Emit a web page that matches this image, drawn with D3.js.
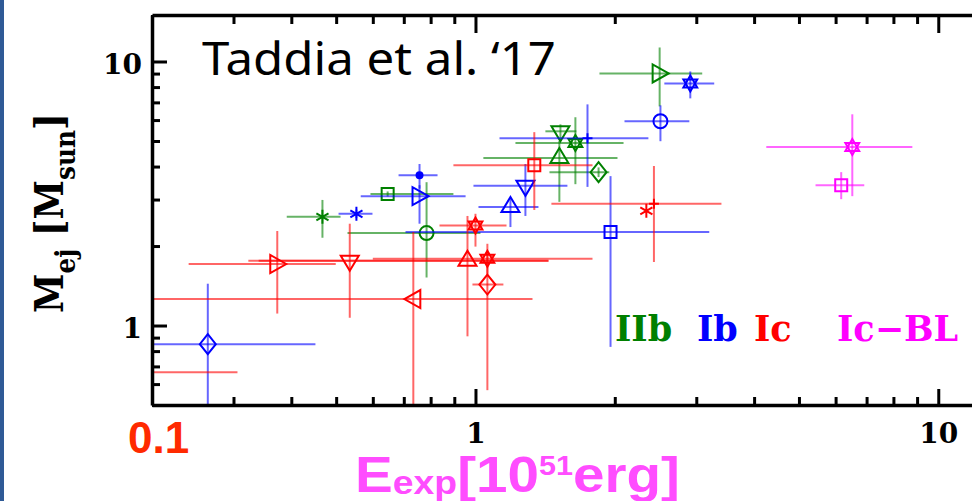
<!DOCTYPE html>
<html>
<head>
<meta charset="utf-8">
<script src="https://cdn.jsdelivr.net/npm/d3@7"></script>
<style>
  body { margin: 0; background: #fff; }
  svg { display: block; }
</style>
</head>
<body>
<svg width="972" height="501"></svg>
<script>
// columns: marker, E, E_lo, E_hi, M, M_lo, M_hi
var iib = [
    ["asterisk", 0.467, 0.391, 0.511, 2.58, 2.15, 2.99],
    ["square",   0.646, 0.593, 0.896, 3.15, 3.08, 3.22],
    ["circle",   0.784, 0.529, 1.025, 2.24, 1.52, 3.49],
    ["triUp",    1.518, 1.04,  2.027, 4.31, 2.94, 5.0],
    ["triDown",  1.526, 1.416, 1.652, 5.44, 5.0,  5.78],
    ["star",     1.644, 1.22,  2.089, 4.91, 3.43, 6.15],
    ["diamond",  1.845, 1.445, 1.946, 3.81, 3.65, 3.97],
    ["triRight", 2.5,   1.853, 3.09,  9.01, 6.76, 11.3]
];
var ib = [
    ["diamond",  0.264, 0.18,  0.451, 0.85, 0.45, 1.44],
    ["asterisk", 0.553, 0.506, 0.599, 2.65, 2.55, 2.75],
    ["dot",      0.757, 0.682, 0.828, 3.71, 3.3,  4.09],
    ["triRight", 0.757, 0.565, 0.952, 3.09, 2.43, 3.4],
    ["triUp",    1.19,  1.015, 1.368, 2.81, 2.36, 3.04],
    ["triDown",  1.282, 0.99,  1.58,  3.38, 2.6,  4.09],
    ["plus",     1.746, 1.127, 2.364, 5.12, 3.35, 6.88],
    ["circle",   2.51,  2.099, 2.898, 5.94, 4.99, 6.82],
    ["star",     2.912, 2.559, 3.28,  8.26, 7.25, 9.17],
    ["square",   1.958, 0.706, 3.2,   2.26, 0.83, 3.68]
];
var ic = [
    ["triRight", 0.373, 0.24,  0.499, 1.71, 1.11, 2.28],
    ["triDown",  0.535, 0.323, 1.438, 1.76, 1.07, 2.43],
    ["triUp",    0.961, 0.34,  1.438, 1.76, 0.91, 2.6],
    ["star",     1.061, 0.6,   1.79,  1.79, 1.57, 2.04],
    ["diamond",  1.061, 0.985, 1.149, 1.43, 0.569, 1.9],
    ["triLeft",  0.734, 0.18,  1.328, 1.26, 0.45, 2.26],
    ["star",     1.0,   0.836, 1.167, 2.39, 1.99, 2.65],
    ["square",   1.34,  0.896, 1.79,  4.05, 2.74, 5.40],
    ["plus",     2.43,  1.459, 3.40,  2.89, 1.74, 4.02],
    ["asterisk", 2.34,  2.34,  2.34,  2.72, 2.72, 2.72],
    ["none",     0.15,  0.1,   0.306, 0.665, 0.665, 0.665]
];
var icbl = [
    ["star",     6.52,  4.25,  8.79,  4.74, 3.09, 6.31],
    ["square",   6.17,  5.43,  6.92,  3.40, 3.01, 3.81]
];

var classNames = ["IIb", "Ib", "Ic", "Ic\u2212BL"];
var classColors = ["#008000", "#0000ff", "#ff0000", "#ff00ff"];
var classData = [iib, ib, ic, icbl];
var legendX = [615, 697, 754, 837];

var xTicks = [0.2, 0.3, 0.4, 0.5, 0.6, 0.7, 0.8, 0.9, 1, 2, 3, 4, 5, 6, 7, 8, 9, 10];
var yTicks = [0.5, 0.6, 0.7, 0.8, 0.9, 1, 2, 3, 4, 5, 6, 7, 8, 9, 10];
var majorTicks = [1, 10];

const svg = d3.select("svg");

var plotLeft = 152, plotRight = 991, plotTop = 15, plotBottom = 405;
var x = d3.scaleLog().domain([0.2, 13]).range([plotLeft, plotRight]);
var y = d3.scaleLog().domain([0.5, 15]).range([plotBottom, plotTop]);

// slide edge
svg.append("rect").attr("x", 0).attr("y", 0).attr("width", 4).attr("height", 501).attr("fill", "#2f5a96");

svg.append("clipPath").attr("id", "plotclip")
  .append("rect").attr("x", plotLeft).attr("y", plotTop)
  .attr("width", plotRight - plotLeft).attr("height", plotBottom - plotTop);

// markers
function markerPath(type) {
    var p = d3.path();
    if (type == "circle") { p.moveTo(7, 0); p.arc(0, 0, 7, 0, 2 * Math.PI); }
    else if (type == "square") { p.rect(-6, -6, 12, 12); }
    else if (type == "triUp") { p.moveTo(0, -10); p.lineTo(9, 5); p.lineTo(-9, 5); p.closePath(); }
    else if (type == "triDown") { p.moveTo(0, 10); p.lineTo(9, -5); p.lineTo(-9, -5); p.closePath(); }
    else if (type == "triRight") { p.moveTo(9, 0); p.lineTo(-7, -9); p.lineTo(-7, 9); p.closePath(); }
    else if (type == "triLeft") { p.moveTo(-9, 0); p.lineTo(7, -9); p.lineTo(7, 9); p.closePath(); }
    else if (type == "diamond") { p.moveTo(0, -10); p.lineTo(8, 0); p.lineTo(0, 10); p.lineTo(-8, 0); p.closePath(); }
    else if (type == "star") {
        for (var s of [-90, 90]) {
            for (var k = 0; k < 3; k++) {
                var a = (s + k * 120) * Math.PI / 180;
                if (k == 0) p.moveTo(8 * Math.cos(a), 8 * Math.sin(a)); else p.lineTo(8 * Math.cos(a), 8 * Math.sin(a));
            }
            p.closePath();
        }
    }
    else if (type == "asterisk") {
        for (var ang of [90, 30, 150]) {
            var a = ang * Math.PI / 180;
            p.moveTo(-7 * Math.cos(a), -7 * Math.sin(a)); p.lineTo(7 * Math.cos(a), 7 * Math.sin(a));
        }
    }
    else if (type == "plus") { p.moveTo(-5, 0); p.lineTo(5, 0); p.moveTo(0, -5); p.lineTo(0, 5); }
    else if (type == "dot") { p.moveTo(3, 0); p.arc(0, 0, 3, 0, 2 * Math.PI); }
    return p.toString();
}

var plot = svg.append("g").attr("clip-path", "url(#plotclip)");

classData.forEach(function(rows, ci) {
    var col = classColors[ci];
    var g = plot.append("g");
    g.selectAll("line.xerr").data(rows).join("line").attr("class", "xerr")
        .attr("x1", d => x(d[2])).attr("x2", d => x(d[3]))
        .attr("y1", d => y(d[4])).attr("y2", d => y(d[4]))
        .attr("stroke", col).attr("stroke-opacity", 0.6).attr("stroke-width", 2);
    g.selectAll("line.yerr").data(rows).join("line").attr("class", "yerr")
        .attr("x1", d => x(d[1])).attr("x2", d => x(d[1]))
        .attr("y1", d => y(d[5])).attr("y2", d => y(d[6]))
        .attr("stroke", col).attr("stroke-opacity", 0.6).attr("stroke-width", 2);
    g.selectAll("path.mk").data(rows).join("path").attr("class", "mk")
        .attr("transform", d => `translate(${x(d[1])},${y(d[4])})`)
        .attr("d", d => markerPath(d[0]))
        .attr("fill", d => d[0] == "dot" ? col : "none")
        .attr("stroke", col).attr("stroke-width", 2);
});

// axes
function styleAxis(g) {
    g.select(".domain").attr("stroke", "#000").attr("stroke-width", 3.5);
    g.selectAll(".tick line").attr("stroke", "#000").attr("stroke-width", 3);
    g.selectAll(".tick text").attr("fill", "#000")
        .style("font-family", "'DejaVu Serif', serif").style("font-weight", "bold").style("font-size", "28px");
}
function fmt(d) { return majorTicks.indexOf(d) >= 0 ? d3.format("d")(d) : ""; }

var xb = svg.append("g").attr("transform", `translate(0,${plotBottom})`)
    .call(d3.axisBottom(x).tickValues(xTicks).tickSizeInner(-8).tickSizeOuter(0).tickPadding(18).tickFormat(fmt));
xb.selectAll(".tick line").attr("y2", d => majorTicks.indexOf(d) >= 0 ? -16 : -8);
styleAxis(xb);

var xt = svg.append("g").attr("transform", `translate(0,${plotTop})`)
    .call(d3.axisTop(x).tickValues(xTicks).tickSizeInner(-8).tickSizeOuter(0).tickFormat(""));
xt.selectAll(".tick line").attr("y2", d => majorTicks.indexOf(d) >= 0 ? 18 : 9);
styleAxis(xt);

var yl = svg.append("g").attr("transform", `translate(${plotLeft},0)`)
    .call(d3.axisLeft(y).tickValues(yTicks).tickSizeInner(-8).tickSizeOuter(0).tickPadding(10).tickFormat(fmt));
yl.selectAll(".tick line").attr("x2", d => majorTicks.indexOf(d) >= 0 ? 15 : 8);
styleAxis(yl);
yl.selectAll(".tick text").attr("dy", "0.42em");

// titles
var ttl = svg.append("text").attr("x", 202).attr("y", 75)
    .style("font-family", "'Noto Sans', sans-serif").style("font-size", "46px").attr("fill", "#000")
    .text("Taddia et al. \u201817");
var w0 = ttl.node().getComputedTextLength();
ttl.attr("transform", `translate(202,0) scale(${354 / w0},1) translate(-202,0)`);

svg.append("text").attr("x", 128).attr("y", 453)
    .style("font-family", "'Liberation Sans', Arial, sans-serif").style("font-weight", "bold").style("font-size", "44px")
    .attr("fill", "#ff2a00").text("0.1");

var xt1 = svg.append("text").attr("x", 355).attr("y", 492)
    .style("font-family", "'Liberation Sans', Arial, sans-serif").style("font-weight", "bold")
    .attr("fill", "#ff4dff");
xt1.append("tspan").style("font-size", "50px").text("E");
xt1.append("tspan").style("font-size", "33px").attr("dy", 2).text("exp");
xt1.append("tspan").style("font-size", "50px").attr("dy", -2).text("[10");
xt1.append("tspan").style("font-size", "27px").attr("dy", -17).text("51");
xt1.append("tspan").style("font-size", "50px").attr("dy", 17).text("erg]");
var w1 = xt1.node().getComputedTextLength();
xt1.attr("transform", `translate(355,0) scale(${325 / w1},1) translate(-355,0)`);

var yt = svg.append("text").attr("transform", "translate(63,313) rotate(-90)")
    .style("font-family", "'DejaVu Serif', serif").style("font-weight", "bold").attr("fill", "#000");
yt.append("tspan").style("font-size", "39px").text("M");
yt.append("tspan").style("font-size", "27px").attr("dy", 12).text("ej");
yt.append("tspan").style("font-size", "39px").attr("dy", -12).text(" [M");
yt.append("tspan").style("font-size", "27px").attr("dy", 12).text("sun");
yt.append("tspan").style("font-size", "39px").attr("dy", -12).text("]");
var w2 = yt.node().getComputedTextLength();
yt.attr("transform", `translate(63,313) rotate(-90) scale(${200 / w2},1)`);

// legend
svg.selectAll("text.leg").data(classNames).join("text").attr("class", "leg")
    .attr("x", (d, i) => legendX[i]).attr("y", 341)
    .style("font-family", "'DejaVu Serif', serif").style("font-weight", "bold").style("font-size", "35px")
    .attr("fill", (d, i) => classColors[i])
    .text(d => d);
</script>
</body>
</html>
